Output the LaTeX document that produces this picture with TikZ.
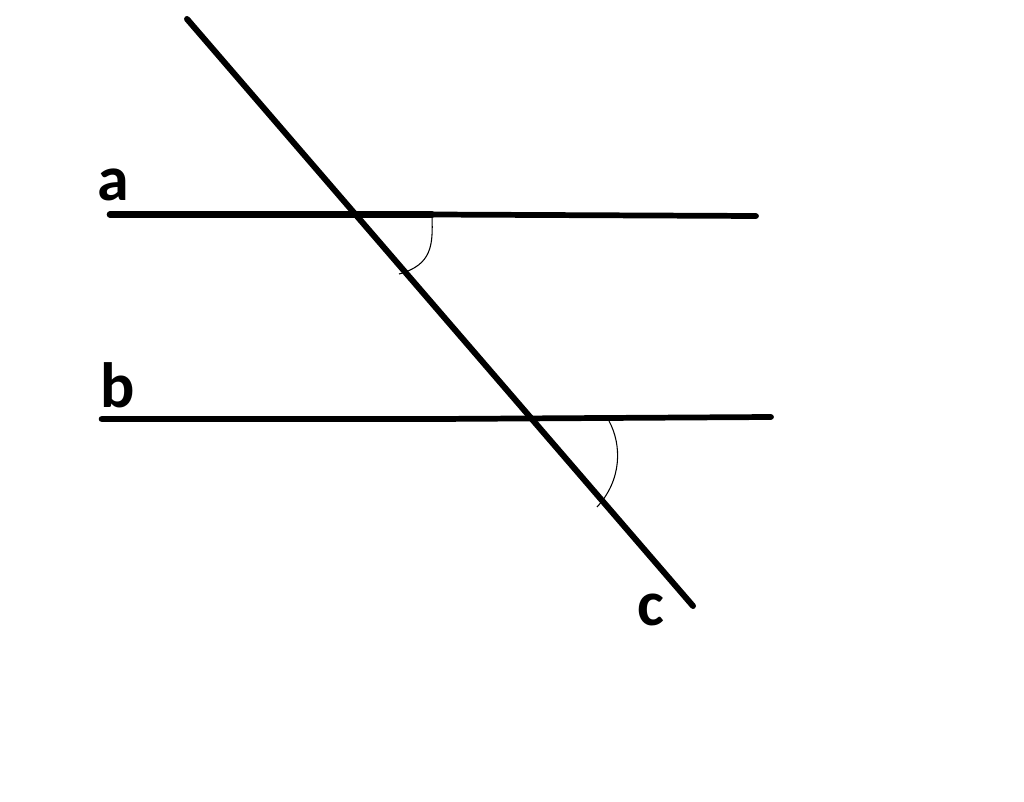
\documentclass[tikz,border=0pt]{standalone}
\usepackage{fontspec}
\setmainfont{Carlito}
\begin{document}
\begin{tikzpicture}[x=0.75pt,y=-0.75pt,
  thickline/.style={line width=5pt,line cap=round},
  thinline/.style={line width=4.3pt,line cap=round},
  arcline/.style={line width=0.8pt},
  lbl/.style={font=\bfseries\fontsize{48}{52}\selectfont,inner sep=0pt}]
\useasboundingbox[fill=white] (0,0) rectangle (1024,802);
\coordinate (a1) at (110,214.5);
\coordinate (a2) at (432,214.5);
\coordinate (a3) at (756,216);
\coordinate (b1) at (102,419);
\coordinate (b2) at (436,419);
\coordinate (b3) at (771,417);
\coordinate (c1) at (187,19);
\coordinate (c2) at (693,606);
\draw[thickline] (a1) -- (a2);
\draw[thinline] (a2) -- (a3);
\draw[thickline] (b1) -- (b2);
\draw[thinline] (b2) -- (b3);
\draw[thinline,line width=4.5pt] (c1) -- (c2);
\coordinate (p1) at (432,217);
\coordinate (p2) at (399,274);
\draw[arcline] (p1) .. controls (433,245) and (432,265) .. (p2);
\coordinate (q1) at (609,421);
\coordinate (q2) at (597,507);
\draw[arcline] (q1) .. controls (622,445) and (622,480) .. (q2);
\node[lbl] (la) at (113,185) {a};
\node[lbl] (lb) at (118,385) {b};
\node[lbl] (lc) at (651,610) {c};
\end{tikzpicture}
\end{document}
